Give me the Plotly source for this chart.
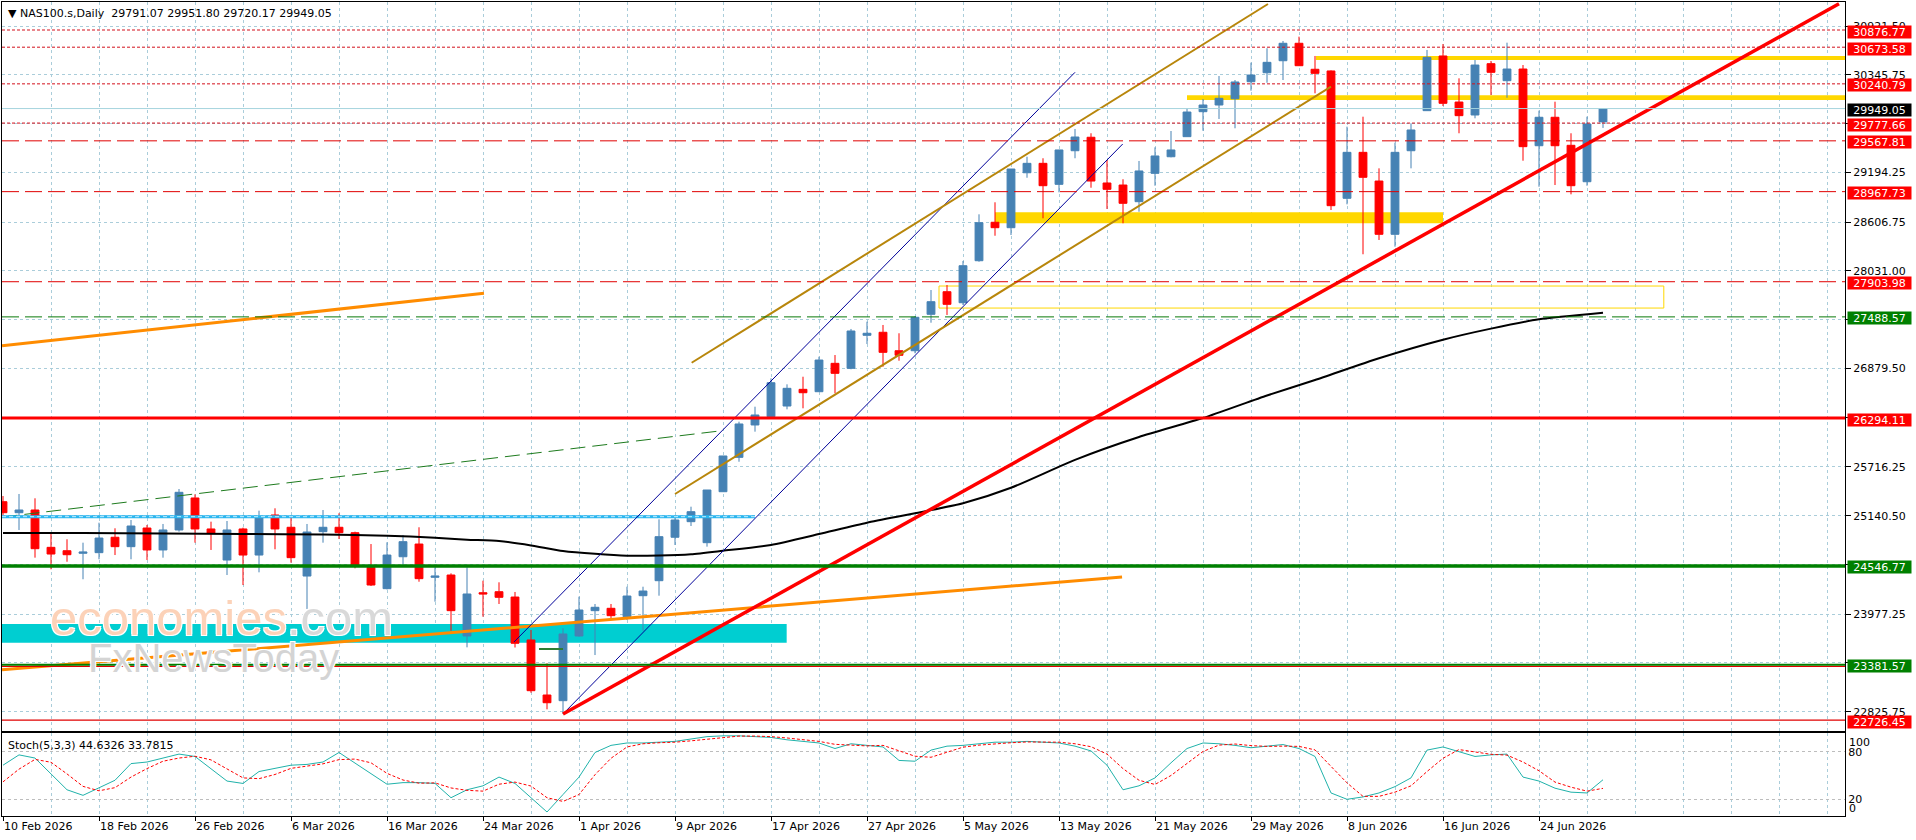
import plotly.graph_objects as go
import pandas as pd

# ---------------- data ----------------
dates = pd.bdate_range("2026-02-10", periods=101)
date_labels = [f"{d.day} {d.strftime('%b %Y')}" for d in dates]
bar_idx = list(range(len(dates)))

opens = [25306, 25176, 25208, 24767, 24727, 24697, 24704, 24886, 24775, 24995,
         24736, 24972, 25350, 24984, 24617, 24984, 24676, 25149, 25004, 24428,
         24952, 25004, 24940, 24531, 24279, 24656, 24806, 24413, 24440, 23720,
         24231, 24243, 24180, 23673, 23023, 22956, 23720, 24019, 24047, 23948,
         24196, 24373, 24886, 25070, 24822, 25424, 25830, 26212, 26310, 26436,
         26633, 26605, 26940, 26881, 27271, 27307, 27089, 27089, 27519, 27786,
         27656, 28152, 28606, 28542, 29191, 29302, 29054, 29451, 29610, 29070,
         29046, 28849, 29184, 29380, 29617, 29912, 29991, 30065, 30266, 30372,
         30514, 30720, 30413, 30393, 28889, 29432, 29093, 28464, 29451, 29924,
         30570, 30026, 29873, 30479, 30278, 30416, 29510, 29846, 29515, 29085,
         29791.07]
highs = [25373, 25397, 25346, 24933, 24862, 24822, 25058, 24992, 25090, 25031,
         25043, 25456, 25393, 25070, 25078, 25000, 25200, 25228, 25122, 25043,
         25208, 25169, 24952, 24806, 24826, 24913, 25004, 24531, 24460, 24531,
         24373, 24354, 24240, 23791, 23397, 23811, 24184, 24098, 24098, 24302,
         24302, 25098, 25129, 25247, 25444, 25846, 26251, 26428, 26763, 26692,
         26782, 27018, 27038, 27346, 27432, 27393, 27295, 27499, 27806, 27865,
         28149, 28700, 28842, 29235, 29380, 29362, 29460, 29708, 29657, 29341,
         29114, 29330, 29491, 29684, 29952, 30062, 30333, 30286, 30491, 30661,
         30747, 30798, 30570, 30400, 29735, 29853, 29243, 29546, 29775, 30641,
         30711, 30306, 30522, 30511, 30727, 30463, 29924, 30030, 29657, 29853,
         29951.80]
lows = [25149, 24972, 24645, 24508, 24597, 24390, 24626, 24676, 24626, 24617,
        24645, 24952, 24822, 24736, 24440, 24322, 24472, 24744, 24586, 24039,
        24822, 24865, 24519, 24310, 24270, 24558, 24361, 24125, 23782, 23586,
        23948, 24098, 23584, 23050, 22854, 22799, 23712, 23495, 23929, 23909,
        23782, 24196, 24795, 25019, 24775, 25424, 25778, 26133, 26310, 26397,
        26409, 26605, 26586, 26870, 27168, 26900, 26971, 27059, 27420, 27511,
        27629, 28140, 28447, 28456, 29132, 28653, 28960, 29362, 29014, 28763,
        28594, 28731, 29038, 29373, 29617, 29687, 29826, 29716, 30160, 30254,
        30286, 30455, 30129, 28751, 28818, 28228, 28397, 28318, 29243, 29924,
        29979, 29657, 29834, 30109, 30077, 29333, 29026, 29046, 28936, 29038,
        29720.17]
closes = [25176, 25208, 24751, 24688, 24680, 24712, 24877, 24775, 25019, 24736,
          24972, 25417, 24984, 24933, 24972, 24676, 25122, 24984, 24645, 24948,
          25004, 24940, 24558, 24322, 24676, 24834, 24397, 24428, 24019, 24216,
          24216, 24177, 23634, 23074, 22932, 23744, 24027, 24059, 23960, 24192,
          24251, 24893, 25090, 25188, 25444, 25846, 26224, 26330, 26711, 26645,
          26593, 26979, 26822, 27322, 27295, 27070, 27035, 27484, 27668, 27637,
          28093, 28601, 28542, 29235, 29302, 29038, 29460, 29613, 29093, 28995,
          28830, 29212, 29389, 29460, 29908, 29991, 30070, 30263, 30345, 30495,
          30720, 30455, 30365, 28802, 29432, 29137, 28464, 29432, 29696, 30554,
          30011, 29865, 30463, 30377, 30416, 29499, 29846, 29510, 29038, 29767,
          29949.05]

# moving average (read at selected bars)
ma_idx = [0, 5, 10, 15, 20, 24, 27, 29, 31, 33, 35, 37, 39, 41, 43, 45, 48, 51, 54, 57,
          60, 63, 67, 71, 75, 79, 82, 86, 90, 93, 96, 100]
ma_val = [24936, 24936, 24930, 24925, 24918, 24905, 24881, 24858, 24842, 24790, 24724,
          24690, 24668, 24670, 24685, 24727, 24795, 24924, 25058, 25169,
          25287, 25470, 25800, 26070, 26294, 26560, 26743, 27000, 27219, 27350, 27460, 27537]

# stochastic %K and %D
stoch_k = [63, 76, 72, 52, 32, 25, 35, 44, 65, 67,
           72, 77, 74, 58, 43, 40, 55, 59, 63, 64,
           67, 79, 66, 53, 39, 41, 41, 40, 22, 32,
           37, 48, 40, 22, 4, 26, 48, 79, 88, 91,
           91, 92, 93, 96, 99, 100, 100, 99, 98, 95,
           93, 91, 84, 90, 88, 86, 69, 68, 82, 87,
           88, 90, 92, 92, 93, 92, 91, 87, 81, 63,
           32, 37, 47, 66, 84, 91, 90, 88, 85, 87,
           89, 84, 74, 28, 20, 23, 28, 36, 47, 82,
           86, 80, 74, 76, 77, 48, 43, 34, 29, 28,
           44.63]
stoch_d = [42, 58, 70.3, 66.7, 52, 36.3, 30.7, 34.7, 48, 58.7,
           68, 72, 74.3, 69.7, 58.3, 47, 46, 51.3, 59, 62,
           64.7, 70, 70.7, 66, 52.7, 44.3, 40.3, 40.7, 34.3, 31.3,
           30.3, 39, 41.7, 36.7, 22, 17.3, 26, 51, 71.7, 86,
           90, 91.3, 92, 93.7, 96, 98.3, 99.7, 99.7, 99, 97.3,
           95.3, 93, 89.3, 88.3, 87.3, 88, 81, 74.3, 73, 79,
           85.7, 88.3, 90, 91.3, 92.3, 92.3, 92, 90, 86.3, 77,
           58.7, 44, 38.7, 50, 65.7, 80.3, 88.3, 89.7, 87.7, 86.7,
           87, 86.7, 82.3, 62, 40.7, 23.7, 23.7, 29, 37, 55,
           71.7, 82.7, 80, 76.7, 75.7, 67, 56, 41.7, 35.3, 30.3,
           33.78]

# horizontal levels
lvl_red_dot = [30876.77, 30673.58, 30240.79, 29777.66]
lvl_red_dash = [29567.81, 28967.73, 27903.98]
lvl_green_dash = [27488.57]
lvl_red_solid = [26294.11]
lvl_green_solid = [24546.77]
lvl_green_thin = [23381.57]
lvl_red_thin = [23362.0, 22726.45]
bid_price = 29949.05

# right-hand price labels
lab_red = [30876.77, 30673.58, 30240.79, 29777.66, 29567.81, 28967.73, 27903.98, 26294.11, 22726.45]
lab_green = [27488.57, 24546.77, 23381.57]
lab_black = [29949.05]

# price axis grid / ticks
y_grid = [30921.50, 30345.75, 29770.00, 29194.25, 28606.75, 28031.00, 27455.25, 26879.50,
          26297.88, 25716.25, 25140.50, 24558.75, 23977.25, 23401.50, 22825.75]
y_grid_text = ["30921.50", "30345.75", "", "29194.25", "28606.75", "28031.00", "", "26879.50",
               "", "25716.25", "25140.50", "", "23977.25", "", "22825.75"]

# drawn objects (bar index, price)
red_trend_x, red_trend_y = [35, 114.75], [22799, 31187]
blue1_x, blue1_y = [31.94, 67.0], [23649, 30377]
blue2_x, blue2_y = [35, 69.98], [22799, 29530]
gold_up_x, gold_up_y = [43.04, 79.06], [26947, 31184]
gold_lo_x, gold_lo_y = [42, 83], [25397, 30207]
orange_a_x, orange_a_y = [-0.06, 30.06], [27147, 27767]
orange_b_x, orange_b_y = [-0.06, 69.94], [23320, 24417]
green_dash_x, green_dash_y = [-0.03, 44.6], [25125, 26137]
skyblue_x, skyblue_y = [-0.06, 47], [25129, 25129]
green_short_x, green_short_y = [33.5, 35], [23566, 23566]

cyan_band = (-0.1, 48.98, 23641, 23862)
gold_bands = [(62, 90, 28594, 28724), (74, 116, 30050, 30106), (82.06, 116, 30522, 30570)]
gold_outline = (58.5, 103.8, 27593, 27853)

label_idx = list(range(0, 97, 6))
grid_idx = list(range(0, 116, 3))

# ---------------- layout helpers ----------------
W, H = 1916, 840
ML, MR, MT, MB = 2, 71, 2, 24
PH = H - MT - MB
def py(ypx):
    return (H - MB - ypx) / PH

def kx(xpx):
    return (xpx - 3) / 16.0

FONT = "DejaVu Sans"
GRID = "rgb(170,205,218)"

fig = go.Figure()

fig.add_trace(go.Candlestick(
    x=bar_idx, open=opens, high=highs, low=lows, close=closes,
    increasing=dict(line=dict(color="#4682B4", width=1), fillcolor="#4682B4"),
    decreasing=dict(line=dict(color="#FF0000", width=1), fillcolor="#FF0000"),
    whiskerwidth=0, showlegend=False, hoverinfo="skip", xaxis="x", yaxis="y"))

fig.add_trace(go.Scatter(x=ma_idx, y=ma_val, mode="lines",
                         line=dict(color="black", width=2, shape="spline", smoothing=0.6),
                         showlegend=False, hoverinfo="skip"))

def seg(xs, ys, color, width, dash="solid"):
    fig.add_trace(go.Scatter(x=xs, y=ys, mode="lines", line=dict(color=color, width=width, dash=dash),
                             showlegend=False, hoverinfo="skip", xaxis="x", yaxis="y"))

seg(green_dash_x, green_dash_y, "#1E7B1E", 1, "15px,7px")
seg(skyblue_x, skyblue_y, "#29B6F0", 3)
seg(skyblue_x, skyblue_y, "#C8F0FF", 1, "4px,3px")
seg(orange_a_x, orange_a_y, "#FF8C00", 3)
seg(orange_b_x, orange_b_y, "#FF8C00", 3)
seg(blue1_x, blue1_y, "#000099", 1)
seg(blue2_x, blue2_y, "#000099", 1)
seg(gold_up_x, gold_up_y, "#B8860B", 2)
seg(gold_lo_x, gold_lo_y, "#B8860B", 2)
seg(green_short_x, green_short_y, "#2E7D32", 2)
seg(red_trend_x, red_trend_y, "#FF0000", 3.5)

# stochastic
fig.add_trace(go.Scatter(x=bar_idx, y=stoch_k, mode="lines", line=dict(color="#20B2AA", width=1),
                         showlegend=False, hoverinfo="skip", xaxis="x2", yaxis="y2"))
fig.add_trace(go.Scatter(x=bar_idx, y=stoch_d, mode="lines", line=dict(color="#FF0000", width=1, dash="3px,2px"),
                         showlegend=False, hoverinfo="skip", xaxis="x2", yaxis="y2"))

shapes = []
def hline(y, color, width, dash="solid", layer="above"):
    shapes.append(dict(type="line", xref="x domain", yref="y", x0=0, x1=1, y0=y, y1=y,
                       line=dict(color=color, width=width, dash=dash), layer=layer))

x0b, x1b, y0b, y1b = cyan_band
shapes.append(dict(type="rect", xref="x", yref="y", x0=x0b, x1=x1b, y0=y0b, y1=y1b,
                   fillcolor="#00CED1", line=dict(width=0), layer="between"))
for (a, b, c, d) in gold_bands:
    shapes.append(dict(type="rect", xref="x", yref="y", x0=a, x1=b, y0=c, y1=d,
                       fillcolor="#FFD700", line=dict(width=0), layer="between"))
a, b, c, d = gold_outline
shapes.append(dict(type="rect", xref="x", yref="y", x0=a, x1=b, y0=c, y1=d,
                   fillcolor="rgba(0,0,0,0)", line=dict(color="#FFD700", width=1), layer="between"))

hline(bid_price, "#A6D4DE", 1)
for v in lvl_red_dot:
    hline(v, "#D3101C", 1, "3px,2px")
for v in lvl_red_dash:
    hline(v, "#E00000", 1, "17px,6px")
for v in lvl_green_dash:
    hline(v, "#0A7A0A", 1, "17px,6px")
for v in lvl_red_solid:
    hline(v, "#FF0000", 3)
for v in lvl_green_solid:
    hline(v, "#008000", 3.5)
for v in lvl_red_thin:
    hline(v, "#E00000", 1.2)
for v in lvl_green_thin:
    hline(v, "#008000", 2)

annotations = []
def plabel(v, bg):
    annotations.append(dict(xref="paper", yref="y", x=1, y=v, xanchor="left", yanchor="middle",
                            xshift=2, yshift=-1.5, text=f"{v:.2f}", showarrow=False,
                            bgcolor=bg, borderpad=0, width=63, height=12, align="center",
                            font=dict(family=FONT, size=11, color="white")))
for v in lab_red:
    plabel(v, "#FF0000")
for v in lab_green:
    plabel(v, "#008000")
for v in lab_black:
    plabel(v, "#000000")

annotations.append(dict(xref="paper", yref="paper", x=0, y=py(13.5), xanchor="left", yanchor="middle",
                        xshift=4, showarrow=False,
                        text="\u25BC NAS100.s,Daily\u00a0\u00a029791.07 29951.80 29720.17 29949.05",
                        font=dict(family=FONT, size=11, color="black")))
annotations.append(dict(xref="paper", yref="paper", x=0, y=py(745), xanchor="left", yanchor="middle",
                        xshift=4, showarrow=False, text="Stoch(5,3,3) 44.6326 33.7815",
                        font=dict(family=FONT, size=11, color="black")))
for txt, val in (("100", 91.3), ("0", 9.0)):
    annotations.append(dict(xref="paper", yref="y2", x=1, y=val, xanchor="left", yanchor="middle",
                            xshift=2, showarrow=False, text=txt,
                            font=dict(family=FONT, size=11, color="black")))

outline = "white 1px 1px 0px, white -1px -1px 0px, white 1px -1px 0px, white -1px 1px 0px"
annotations.append(dict(xref="x", yref="y", x=kx(48), y=23932, xanchor="left", yanchor="middle",
                        showarrow=False,
                        text="<span style='color:#FCD2B8'>economies</span><span style='color:#D9D9D9'>.com</span>",
                        font=dict(family="Liberation Sans", size=49, shadow=outline)))
annotations.append(dict(xref="x", yref="y", x=kx(86), y=23464, xanchor="left", yanchor="middle",
                        showarrow=False, text="FxNewsToday",
                        font=dict(family="Liberation Sans", size=40, color="#D4D4D4", shadow=outline)))

xr = [-0.0625, 115.125]
common_x = dict(range=xr, showgrid=False, zeroline=False, showline=True, mirror=True,
                linecolor="black", linewidth=1,
                minor=dict(tickvals=grid_idx, showgrid=True, gridcolor=GRID, griddash="3px,3px",
                           gridwidth=1, ticks=""))

fig.update_layout(
    width=W, height=H, margin=dict(l=ML, r=MR, t=MT, b=MB),
    paper_bgcolor="white", plot_bgcolor="white", hovermode=False, showlegend=False,
    xaxis=dict(**common_x, anchor="y", domain=[0, 1], showticklabels=False, ticks="",
               rangeslider=dict(visible=False)),
    xaxis2=dict(**common_x, anchor="y2", domain=[0, 1], matches="x",
                tickmode="array", tickvals=label_idx, ticktext=[date_labels[i] for i in label_idx],
                ticks="outside", ticklen=4, tickcolor="black", ticklabelposition="outside right",
                tickfont=dict(family=FONT, size=11, color="black")),
    yaxis=dict(domain=[py(730.7), 1], range=[22601.5, 31207.45], side="right", anchor="x",
               tickmode="array", tickvals=y_grid, ticktext=y_grid_text,
               ticks="outside", ticklen=5, tickcolor="black",
               tickfont=dict(family=FONT, size=11, color="black"),
               showgrid=True, gridcolor=GRID, griddash="3px,3px", zeroline=False,
               showline=True, mirror=True, linecolor="black", linewidth=1),
    yaxis2=dict(domain=[0, py(733.3)], range=[-1.05, 103.2], side="right", anchor="x2",
                tickmode="array", tickvals=[80, 20], ticktext=["80", "20"], ticks="",
                tickfont=dict(family=FONT, size=11, color="black"),
                showgrid=True, gridcolor="#BDBDBD", griddash="3px,3px", zeroline=False,
                showline=True, mirror=True, linecolor="black", linewidth=1),
    shapes=shapes, annotations=annotations,
)

fig.write_html("out.html")
